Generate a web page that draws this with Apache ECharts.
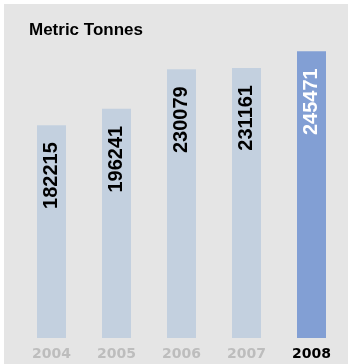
<!DOCTYPE html>
<html>
<head>
<meta charset="utf-8">
<script src="https://cdn.jsdelivr.net/npm/echarts@6/dist/echarts.min.js"></script>
<style>
  html, body { margin: 0; padding: 0; background: #ffffff; }
  #chart { width: 348px; height: 364px; }
</style>
</head>
<body>
<div id="chart"></div>
<script>
// Annual volume, metric tonnes
const years = ['2004', '2005', '2006', '2007', '2008'];
const tonnes = [182215, 196241, 230079, 231161, 245471];
const highlightYear = '2008';

const BAR = '#c3d0df';
const BAR_HL = '#829fd4';

const chart = echarts.init(document.getElementById('chart'), null, { renderer: 'canvas' });

const barData = tonnes.map((v, i) => {
  const hl = years[i] === highlightYear;
  return {
    value: v,
    itemStyle: { color: hl ? BAR_HL : BAR },
    label: { color: hl ? '#ffffff' : '#000000' }
  };
});

chart.setOption({
  animation: false,
  graphic: [{
    type: 'rect',
    shape: { x: 4, y: 4, width: 344, height: 360 },
    style: { fill: '#e5e5e5' },
    z: -10,
    silent: true
  }],
  title: {
    text: 'Metric Tonnes',
    left: 29,
    top: 22,
    padding: 0,
    textStyle: {
      fontFamily: 'Liberation Sans, Arial, sans-serif',
      fontSize: 17,
      fontWeight: 'bold',
      color: '#000000'
    }
  },
  grid: { left: 19, right: 4, top: 46, bottom: 26 },
  xAxis: {
    type: 'category',
    data: years,
    axisLine: { show: false },
    axisTick: { show: false },
    axisLabel: {
      margin: 9,
      formatter: (v) => v === highlightYear ? '{hl|' + v + '}' : '{n|' + v + '}',
      rich: {
        n: { fontFamily: 'DejaVu Sans', fontWeight: 'bold', fontSize: 14, color: '#bdbdbd' },
        hl: { fontFamily: 'DejaVu Sans', fontWeight: 'bold', fontSize: 14, color: '#000000' }
      }
    }
  },
  yAxis: {
    type: 'value',
    min: 0,
    max: 250000,
    show: false,
    splitLine: { show: false }
  },
  series: [{
    type: 'bar',
    data: barData,
    barWidth: 29,
    label: {
      show: true,
      position: 'insideTop',
      distance: 17,
      rotate: 90,
      align: 'right',
      verticalAlign: 'middle',
      fontFamily: 'Liberation Sans, Arial, sans-serif',
      fontWeight: 'bold',
      fontSize: 20
    }
  }]
});
</script>
</body>
</html>
